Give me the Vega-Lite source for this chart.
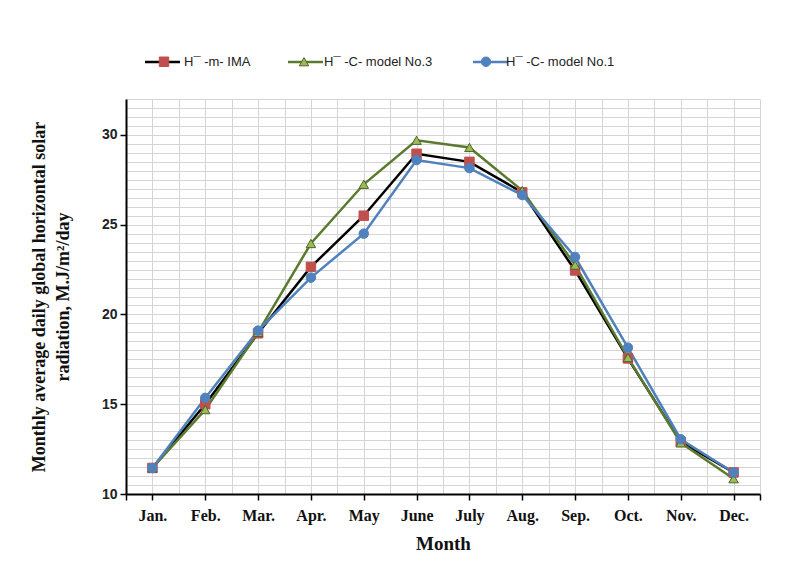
{
  "$schema": "https://vega.github.io/schema/vega-lite/v6.json",
  "width": 634,
  "height": 395,
  "autosize": {"type": "none"},
  "padding": {"left": 126, "top": 99, "right": 44, "bottom": 68},
  "background": "white",
  "config": {"view": {"stroke": null}},
  "data": {
    "values": [
      {"m": 1, "series": "H¯ -m- IMA", "value": 11.45},
      {"m": 2, "series": "H¯ -m- IMA", "value": 15.0},
      {"m": 3, "series": "H¯ -m- IMA", "value": 18.95},
      {"m": 4, "series": "H¯ -m- IMA", "value": 22.65},
      {"m": 5, "series": "H¯ -m- IMA", "value": 25.5},
      {"m": 6, "series": "H¯ -m- IMA", "value": 28.95},
      {"m": 7, "series": "H¯ -m- IMA", "value": 28.5},
      {"m": 8, "series": "H¯ -m- IMA", "value": 26.8},
      {"m": 9, "series": "H¯ -m- IMA", "value": 22.45},
      {"m": 10, "series": "H¯ -m- IMA", "value": 17.55},
      {"m": 11, "series": "H¯ -m- IMA", "value": 12.9},
      {"m": 12, "series": "H¯ -m- IMA", "value": 11.2},
      {"m": 1, "series": "H¯ -C- model No.3", "value": 11.45},
      {"m": 2, "series": "H¯ -C- model No.3", "value": 14.7},
      {"m": 3, "series": "H¯ -C- model No.3", "value": 19.0},
      {"m": 4, "series": "H¯ -C- model No.3", "value": 23.95},
      {"m": 5, "series": "H¯ -C- model No.3", "value": 27.25},
      {"m": 6, "series": "H¯ -C- model No.3", "value": 29.7},
      {"m": 7, "series": "H¯ -C- model No.3", "value": 29.3},
      {"m": 8, "series": "H¯ -C- model No.3", "value": 26.9},
      {"m": 9, "series": "H¯ -C- model No.3", "value": 22.75},
      {"m": 10, "series": "H¯ -C- model No.3", "value": 17.6},
      {"m": 11, "series": "H¯ -C- model No.3", "value": 12.85},
      {"m": 12, "series": "H¯ -C- model No.3", "value": 10.85},
      {"m": 1, "series": "H¯ -C- model No.1", "value": 11.45},
      {"m": 2, "series": "H¯ -C- model No.1", "value": 15.35},
      {"m": 3, "series": "H¯ -C- model No.1", "value": 19.1},
      {"m": 4, "series": "H¯ -C- model No.1", "value": 22.05},
      {"m": 5, "series": "H¯ -C- model No.1", "value": 24.5},
      {"m": 6, "series": "H¯ -C- model No.1", "value": 28.6},
      {"m": 7, "series": "H¯ -C- model No.1", "value": 28.15},
      {"m": 8, "series": "H¯ -C- model No.1", "value": 26.65},
      {"m": 9, "series": "H¯ -C- model No.1", "value": 23.2},
      {"m": 10, "series": "H¯ -C- model No.1", "value": 18.15},
      {"m": 11, "series": "H¯ -C- model No.1", "value": 13.05},
      {"m": 12, "series": "H¯ -C- model No.1", "value": 11.2}
    ]
  },
  "layer": [
    {
      "mark": {"type": "line", "strokeWidth": 2.5},
      "encoding": {
        "x": {
          "field": "m", "type": "quantitative",
          "scale": {"domain": [0.5, 12.5], "nice": false, "zero": false},
          "axis": {
            "orient": "bottom",
            "values": [0.5,1,1.5,2,2.5,3,3.5,4,4.5,5,5.5,6,6.5,7,7.5,8,8.5,9,9.5,10,10.5,11,11.5,12,12.5],
            "grid": true, "gridColor": "#d4d4d4", "gridWidth": 1,
            "domain": false, "ticks": false, "labels": false, "title": null
          }
        },
        "y": {
          "field": "value", "type": "quantitative",
          "scale": {"domain": [10, 32], "nice": false, "zero": false},
          "axis": {
            "orient": "left",
            "values": [10,10.5,11,11.5,12,12.5,13,13.5,14,14.5,15,15.5,16,16.5,17,17.5,18,18.5,19,19.5,20,20.5,21,21.5,22,22.5,23,23.5,24,24.5,25,25.5,26,26.5,27,27.5,28,28.5,29,29.5,30,30.5,31,31.5,32],
            "grid": true, "gridColor": "#d4d4d4", "gridWidth": 1,
            "domain": false, "ticks": false, "labels": false, "title": null
          }
        },
        "color": {
          "field": "series", "type": "nominal",
          "sort": ["H¯ -m- IMA", "H¯ -C- model No.3", "H¯ -C- model No.1"],
          "scale": {"range": ["#000000", "#5b7a2e", "#4f81bd"]},
          "legend": {
            "orient": "none", "legendX": 17.5, "legendY": -56,
            "direction": "horizontal", "title": null,
            "symbolType": "M-1,0H1", "symbolSize": 1225, "symbolStrokeWidth": 2.5,
            "symbolOffset": 0, "labelOffset": 0.5, "columnPadding": 34,
            "labelFont": "Liberation Sans", "labelFontSize": 13, "labelColor": "#222222",
            "labelOpacity": 0, "zindex": 1
          }
        }
      }
    },
    {
      "mark": {"type": "point", "filled": true, "size": 90, "strokeWidth": 1, "opacity": 1},
      "encoding": {
        "x": {
          "field": "m", "type": "quantitative",
          "axis": {
            "orient": "bottom",
            "values": [0.5,1,2,3,4,5,6,7,8,9,10,11,12,12.5],
            "labelExpr": "['','Jan.','Feb.','Mar.','Apr.','May','June','July','Aug.','Sep.','Oct.','Nov.','Dec.'][datum.value % 1 == 0 ? datum.value : 0]",
            "grid": false, "domainColor": "#000000", "domainWidth": 2,
            "tickColor": "#000000", "tickWidth": 1.5, "tickSize": 6,
            "labelFont": "Liberation Serif", "labelFontWeight": "bold", "labelFontSize": 16,
            "labelColor": "#111111", "labelPadding": 7, "labelOverlap": false,
            "title": "Month", "titleFont": "Liberation Serif", "titleFontWeight": "bold",
            "titleFontSize": 19, "titleColor": "#111111", "titlePadding": 11
          }
        },
        "y": {
          "field": "value", "type": "quantitative",
          "axis": {
            "orient": "left",
            "values": [10, 15, 20, 25, 30],
            "grid": false, "domainColor": "#000000", "domainWidth": 2,
            "tickColor": "#000000", "tickWidth": 1.5, "tickSize": 6,
            "labelFont": "Liberation Sans", "labelFontWeight": "bold", "labelFontSize": 14,
            "labelColor": "#222222", "labelPadding": 3,
            "title": ["Monthly average daily global horizontal solar", "radiation, M.J/m²/day"],
            "titleFont": "Liberation Serif", "titleFontWeight": "bold", "titleFontSize": 18,
            "titleLineHeight": 24, "titleColor": "#111111", "titlePadding": 29
          }
        },
        "fill": {
          "field": "series", "type": "nominal",
          "scale": {"domain": ["H¯ -m- IMA", "H¯ -C- model No.3", "H¯ -C- model No.1"], "range": ["#c0504d", "#9bbb59", "#4f81bd"]},
          "legend": {
            "orient": "none", "legendX": 19, "legendY": -44,
            "direction": "horizontal", "title": null,
            "symbolSize": 90, "symbolStrokeWidth": 1,
            "symbolOffset": 12.5, "labelOffset": 13.5, "columnPadding": 34,
            "labelFont": "Liberation Sans", "labelFontSize": 13, "labelColor": "#222222",
            "zindex": 2
          }
        },
        "stroke": {
          "field": "series", "type": "nominal",
          "scale": {"domain": ["H¯ -m- IMA", "H¯ -C- model No.3", "H¯ -C- model No.1"], "range": ["#c0504d", "#4f6228", "#4f81bd"]},
          "legend": {
            "orient": "none", "legendX": 19, "legendY": -44,
            "direction": "horizontal", "title": null,
            "symbolSize": 90, "symbolStrokeWidth": 1,
            "symbolOffset": 12.5, "labelOffset": 13.5, "columnPadding": 34,
            "labelFont": "Liberation Sans", "labelFontSize": 13, "labelColor": "#222222",
            "zindex": 2
          }
        },
        "shape": {
          "field": "series", "type": "nominal",
          "scale": {"domain": ["H¯ -m- IMA", "H¯ -C- model No.3", "H¯ -C- model No.1"], "range": ["square", "triangle-up", "circle"]},
          "legend": {
            "orient": "none", "legendX": 19, "legendY": -44,
            "direction": "horizontal", "title": null,
            "symbolSize": 90, "symbolStrokeWidth": 1,
            "symbolOffset": 12.5, "labelOffset": 13.5, "columnPadding": 34,
            "labelFont": "Liberation Sans", "labelFontSize": 13, "labelColor": "#222222",
            "zindex": 2
          }
        }
      }
    }
  ],
  "resolve": {"axis": {"x": "independent", "y": "independent"}}
}
